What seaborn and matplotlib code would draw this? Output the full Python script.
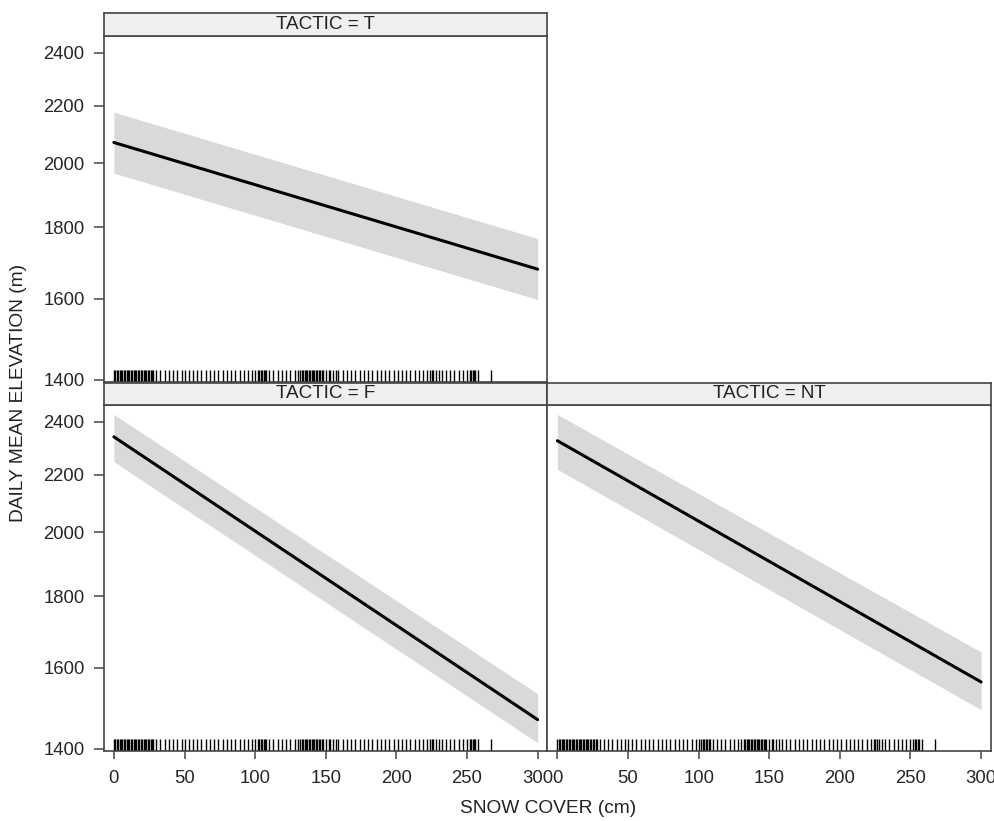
import numpy as np
import pandas as pd
import matplotlib
matplotlib.use('Agg')
import matplotlib.pyplot as plt
from matplotlib.ticker import FixedLocator, FixedFormatter, NullLocator
import seaborn as sns

# ── effect estimates (fit and 95% band) at the ends of the snow range ──
tactics = ["T", "F", "NT"]
snow_ends = [0, 300]
fit_T = [2070, 1680]
lower_T = [1968, 1598]
upper_T = [2176, 1767]
fit_F = [2341, 1469]
lower_F = [2247, 1414]
upper_F = [2429, 1533]
fit_NT = [2326, 1563]
lower_NT = [2219, 1493]
upper_NT = [2429, 1642]

# observed snow cover values (rug), same in every panel
rug_snow = [0, 1, 2, 3, 4, 5, 6, 7, 8, 9, 10, 11, 12, 13, 14, 15, 16, 17, 18, 19,
            20, 21, 22, 23, 24, 25, 26, 27, 28, 30, 33, 36, 39, 42, 45, 48, 50, 53,
            56, 59, 62, 65, 68, 71, 74, 77, 80, 83, 86, 89, 92, 95, 98, 100, 102,
            103, 104, 105, 106, 107, 108, 110, 113, 116, 119, 122, 125, 128, 130,
            132, 133, 134, 135, 136, 137, 138, 139, 140, 141, 142, 143, 144, 145,
            146, 147, 148, 150, 152, 153, 155, 157, 159, 162, 165, 168, 171, 174,
            177, 180, 183, 186, 189, 192, 195, 198, 201, 204, 207, 210, 213, 216,
            219, 222, 224, 225, 226, 228, 230, 232, 235, 238, 241, 244, 247, 250,
            252, 253, 254, 255, 256, 258, 267]

y_ticks = [1400, 1600, 1800, 2000, 2200, 2400]
x_ticks = [0, 50, 100, 150, 200, 250, 300]

fits = {"T": fit_T, "F": fit_F, "NT": fit_NT}
lowers = {"T": lower_T, "F": lower_F, "NT": lower_NT}
uppers = {"T": upper_T, "F": upper_F, "NT": upper_NT}
df = pd.concat([
    pd.DataFrame({"tactic": t, "snow": snow_ends, "fit": fits[t],
                  "lower": lowers[t], "upper": uppers[t]})
    for t in tactics
], ignore_index=True)

sns.set_theme(style="white")
plt.rcParams['font.family'] = ['Liberation Sans', 'DejaVu Sans']
plt.rcParams['text.color'] = '#222222'

W, H = 995, 821
fig = plt.figure(figsize=(W / 100, H / 100), dpi=100)

EDGE = '#444444'
FS = 13.3

# panel layout in pixels: (left, top of plot, bottom of plot)
layout = {
    "T": (104, 36, 382),
    "F": (104, 405, 751),
    "NT": (547.5, 405, 751),
}
pw = 443.5
strip_h = 22.5

for t in tactics:
    left, top, bottom = layout[t]
    ax = fig.add_axes([left / W, (H - bottom) / H, pw / W, (bottom - top) / H])
    sub = df[df.tactic == t]

    ax.fill_between(sub.snow, sub.lower, sub.upper, color='#d9d9d9', lw=0)
    sns.lineplot(data=sub, x='snow', y='fit', ax=ax, color='black', lw=2.2)
    sns.rugplot(x=rug_snow, ax=ax, height=0.036, color='black', lw=1.6,
                expand_margins=False)

    ax.set_yscale('log')
    ax.set_ylim(1395, 2467)
    ax.set_xlim(-7, 307)
    ax.yaxis.set_major_locator(FixedLocator(y_ticks))
    ax.yaxis.set_major_formatter(FixedFormatter([str(v) for v in y_ticks]))
    ax.yaxis.set_minor_locator(NullLocator())
    ax.xaxis.set_major_locator(FixedLocator(x_ticks))
    ax.set_xlabel('')
    ax.set_ylabel('')

    for s in ax.spines.values():
        s.set_color(EDGE)
        s.set_linewidth(1.2)

    show_y = t in ("T", "F")
    show_x = t in ("F", "NT")
    ax.tick_params(axis='y', left=show_y, labelleft=show_y, length=7, width=1.1,
                   color=EDGE, pad=7, labelsize=FS, direction='out')
    ax.tick_params(axis='x', bottom=show_x, labelbottom=show_x, length=6, width=1.1,
                   color=EDGE, pad=8, labelsize=FS, direction='out')

    # strip on top of the panel
    sax = fig.add_axes([left / W, (H - top) / H, pw / W, strip_h / H])
    sax.set_facecolor('#efefef')
    sax.set_xticks([])
    sax.set_yticks([])
    for s in sax.spines.values():
        s.set_color(EDGE)
        s.set_linewidth(1.2)
    sax.text(0.5, 0.5, f"TACTIC = {t}", ha='center', va='center',
             fontsize=FS + 0.3, transform=sax.transAxes)

fig.text(548.5 / W, (H - 808) / H, 'SNOW COVER (cm)', ha='center', va='center',
         fontsize=FS + 0.5)
fig.text(19 / W, (H - 393) / H, 'DAILY MEAN ELEVATION (m)', ha='center',
         va='center', rotation=90, fontsize=FS + 0.5)

fig.savefig('out.png', dpi=100)
